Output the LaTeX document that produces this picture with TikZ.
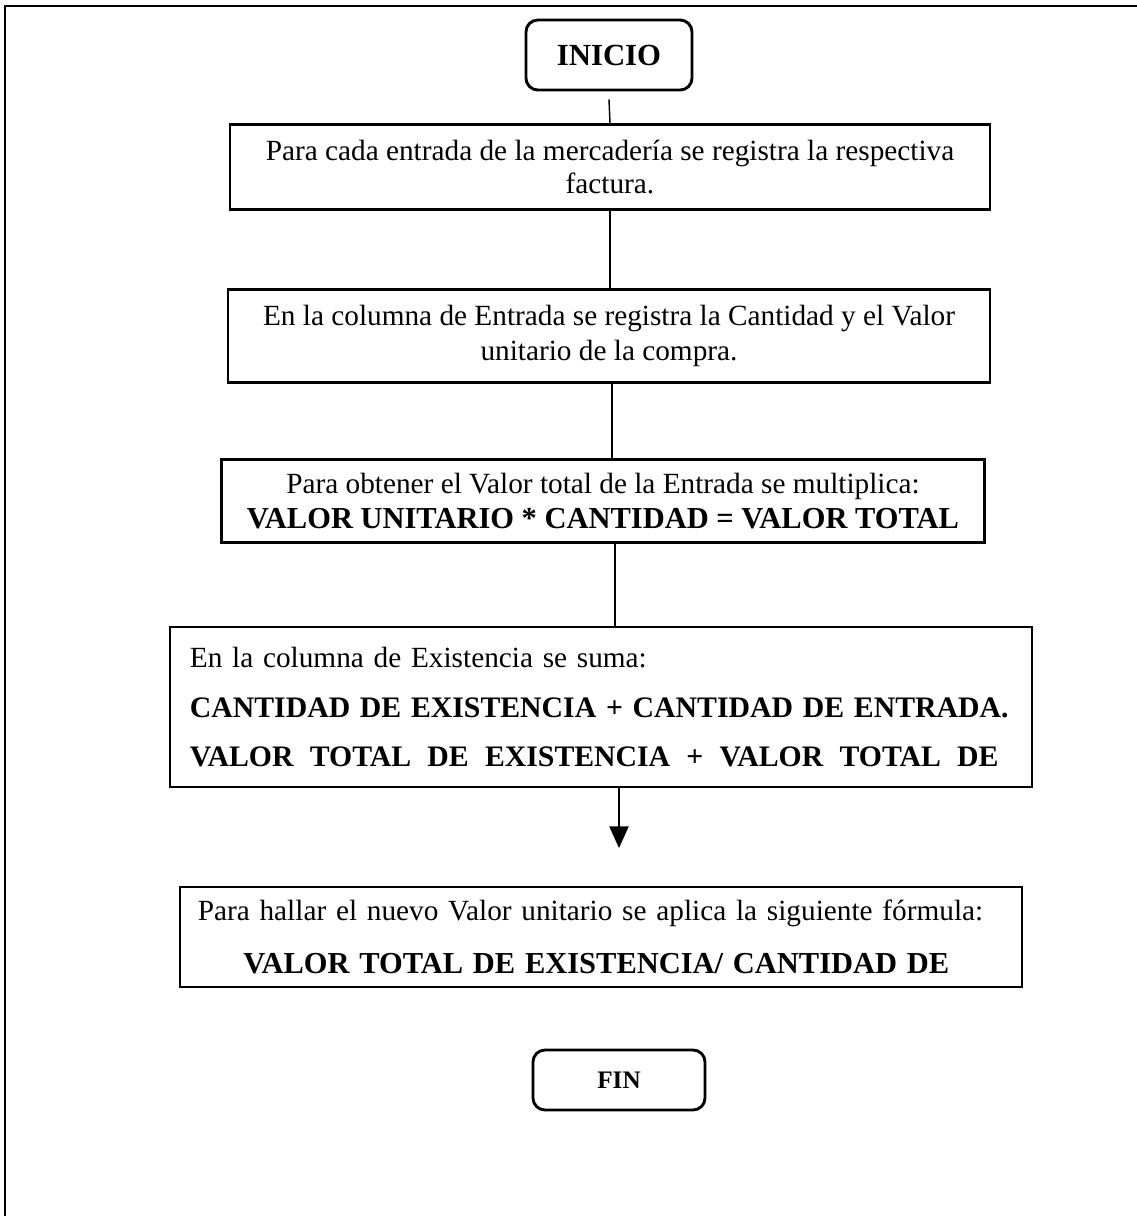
\documentclass[tikz,border=0pt]{standalone}
\usepackage{fontspec}
\setmainfont{Liberation Serif}
\usetikzlibrary{arrows.meta,positioning,calc}
\newcommand{\fuerte}[1]{{\fontsize{12.7}{14}\selectfont\bfseries #1}}
\tikzset{
  termbox/.style={draw, line width=1.2pt, rounded corners=5pt,
                  align=center, inner sep=0pt},
  procbox/.style={draw, line width=1.2pt, align=center, inner sep=0pt,
                  font=\fontsize{12.2}{14.5}\selectfont},
  flowline/.style={line width=0.6pt},
  flowarr/.style={-{Triangle[length=9pt,width=8pt]}, line width=0.6pt}}
\begin{document}
\begin{tikzpicture}[x=0.4167pt, y=-0.4167pt]
    \useasboundingbox (0,0) rectangle (1137,1216);
    % marco de la pagina
    \draw[line width=1pt] (5,1216) -- (5,6) -- (1137,6);
    \node[termbox, minimum width=69.2pt, minimum height=29.2pt,
          font=\fontsize{12.8}{14}\selectfont\bfseries] (inicio) at (609,55) {INICIO};
    \node[procbox, minimum width=316.7pt, minimum height=35.4pt] (reg) at (610,167)
      {Para cada entrada de la mercadería se registra la respectiva\\[-0.8pt] factura.};
    \node[procbox, minimum width=317.5pt, minimum height=38.8pt] (col) at (609,336)
      {En la columna de Entrada se registra la Cantidad y el Valor\\ unitario de la compra.};
    \node[procbox, minimum width=318pt, minimum height=34.6pt] (mult) at (603,501)
      {Para obtener el Valor total de la Entrada se multiplica:\\
       \fuerte{VALOR UNITARIO * CANTIDAD = VALOR TOTAL}};
    \node[procbox, minimum width=359.2pt, minimum height=66.7pt, text width=342.6pt,
          align=left] (suma) at (601,707)
      {En la columna de Existencia se suma:\\[6.5pt]
       {\fontsize{12.4}{14}\selectfont\bfseries\mbox{CANTIDAD DE EXISTENCIA + CANTIDAD DE ENTRADA.}}\\[6pt]
       {\fontsize{12.4}{14}\selectfont\bfseries\makebox[337pt][s]{VALOR\hfill TOTAL\hfill DE\hfill
       EXISTENCIA\hfill +\hfill VALOR\hfill TOTAL\hfill DE}}};
    \node[procbox, minimum width=350.9pt, minimum height=41.7pt, text width=336pt,
          align=left] (formula) at (601,937)
      {Para hallar el nuevo Valor unitario se aplica la siguiente fórmula:\\[7.5pt]
       \hspace*{19pt}\fuerte{VALOR TOTAL DE EXISTENCIA/ CANTIDAD DE}};
    \node[termbox, minimum width=71.7pt, minimum height=25pt,
          font=\fontsize{10.5}{12}\selectfont\bfseries] (fin) at (619,1080) {FIN};
    \coordinate (punta) at (619,848);
    \draw[flowline] ([yshift=-3.3pt]inicio.south) -- (reg.north);
    \draw[flowline] (reg.south) -- (reg.south |- col.north);
    \draw[flowline] ([xshift=1.2pt]col.south) -- ([xshift=1.2pt]col.south |- mult.north);
    \draw[flowline] ([xshift=5pt]mult.south) -- ([xshift=5pt]mult.south |- suma.north);
    \draw[flowarr] (suma.south -| punta) -- (punta);
\end{tikzpicture}
\end{document}
